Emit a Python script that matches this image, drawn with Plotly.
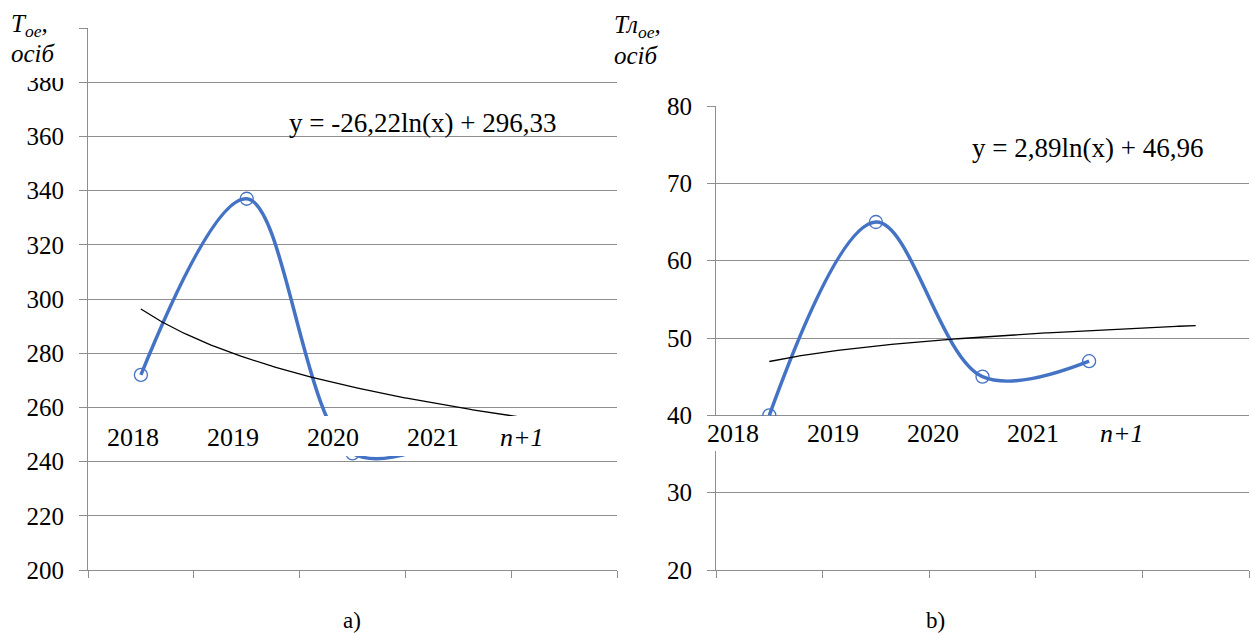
import numpy as np
import plotly.graph_objects as go

# Period labels (last one is the forecast step)
periods = ["2018", "2019", "2020", "2021", "n+1"]
obs_idx = [1, 2, 3, 4]

# a) total number of employees, persons
toe_values = [272, 337, 243, 250]
# b) number of employees in the group, persons
tloe_values = [40, 65, 45, 47]

# Logarithmic trend coefficients: y = a*ln(x) + b
trend_a = (-26.22, 296.33)
trend_b = (2.89, 46.96)

BLUE = "#4472C4"
GRID = "#8e8e8e"
FONT = "Liberation Serif"
W, H = 1252, 633


def px_x(p):
    return p / W


def px_y(p):
    return 1 - p / H


fig = go.Figure()

x_trend = np.linspace(1, 5, 200)

for n, (vals, coef) in enumerate([(toe_values, trend_a), (tloe_values, trend_b)]):
    xa = "x" if n == 0 else "x2"
    ya = "y" if n == 0 else "y2"
    fig.add_trace(go.Scatter(
        x=obs_idx, y=vals, xaxis=xa, yaxis=ya, mode="lines+markers",
        line=dict(color=BLUE, width=3.5, shape="spline", smoothing=1.0),
        marker=dict(symbol="circle-open", size=13, color=BLUE, line=dict(width=1.3)),
        showlegend=False,
    ))
    fig.add_trace(go.Scatter(
        x=x_trend, y=coef[0] * np.log(x_trend) + coef[1], xaxis=xa, yaxis=ya,
        mode="lines", line=dict(color="black", width=1.3), showlegend=False,
    ))

common_x = dict(
    range=[0.5, 5.5], tickmode="array", tickvals=[0.5, 1.5, 2.5, 3.5, 4.5, 5.5],
    showticklabels=False, ticks="outside", ticklen=7, tickcolor=GRID,
    showgrid=False, showline=True, linecolor=GRID, linewidth=1, zeroline=False,
    automargin=False,
)
common_y = dict(
    ticks="outside", ticklen=8, tickcolor=GRID, showgrid=True, gridcolor=GRID,
    gridwidth=1, showline=True, linecolor=GRID, linewidth=1, zeroline=False,
    tickfont=dict(family=FONT, size=25, color="black"), ticklabelstandoff=10,
    automargin=False,
)

fig.update_layout(
    template="none",
    width=W, height=H, margin=dict(l=0, r=0, t=0, b=0, pad=0),
    paper_bgcolor="white", plot_bgcolor="white",
    xaxis=dict(domain=[px_x(88), px_x(617)], anchor="y", **common_x),
    yaxis=dict(domain=[px_y(570), px_y(28)], range=[200, 400], dtick=20,
               anchor="x", **common_y),
    xaxis2=dict(domain=[px_x(716), px_x(1249)], anchor="y2", **common_x),
    yaxis2=dict(domain=[px_y(570), px_y(106)], range=[20, 80], dtick=10,
                anchor="x2", **common_y),
)

# White backing boxes behind the custom category row and the axis captions
boxes = [(0, 0, 78, 78), (605, 0, 672, 75), (95, 416, 585, 456), (700, 416, 1166, 451)]
for x0, y0, x1, y1 in boxes:
    fig.add_shape(type="rect", xref="paper", yref="paper",
                  x0=px_x(x0), x1=px_x(x1), y0=px_y(y1), y1=px_y(y0),
                  fillcolor="white", line=dict(width=0), layer="above")

ann = []
# Category rows drawn as a text strip above the horizontal axis
for x_start, y_row in [(133, 437), (733, 433)]:
    for i, lab in enumerate(periods):
        text = "<i>n+1</i>" if lab == "n+1" else lab
        ann.append(dict(x=px_x(x_start + i * 100 - (11 if lab == "n+1" else 0)),
                        y=px_y(y_row), text=text, size=26))

# Axis captions
ann.append(dict(x=px_x(9), y=px_y(25), text="<i>Т<sub>ое</sub>,</i>", xanchor="left", size=25))
ann.append(dict(x=px_x(9), y=px_y(54), text="<i>осіб</i>", xanchor="left", size=25))
ann.append(dict(x=px_x(612), y=px_y(27), text="<i>Тл<sub>ое</sub>,</i>", xanchor="left", size=25))
ann.append(dict(x=px_x(612), y=px_y(56), text="<i>осіб</i>", xanchor="left", size=25))

# Trend equations
ann.append(dict(x=px_x(423), y=px_y(123), size=27,
                text=f"y = {trend_a[0]:.2f}ln(x) + {trend_a[1]:.2f}".replace(".", ",")))
ann.append(dict(x=px_x(1087), y=px_y(148), size=27,
                text=f"y = {trend_b[0]:.2f}ln(x) + {trend_b[1]:.2f}".replace(".", ",")))

# Panel captions
ann.append(dict(x=px_x(352), y=px_y(620), text="a)", size=23))
ann.append(dict(x=px_x(935), y=px_y(620), text="b)", size=23))

for a in ann:
    a.setdefault("xanchor", "center")
    size = a.pop("size")
    fig.add_annotation(xref="paper", yref="paper", yanchor="middle", showarrow=False,
                       font=dict(family=FONT, size=size, color="black"), **a)

fig.write_html("out.html")
